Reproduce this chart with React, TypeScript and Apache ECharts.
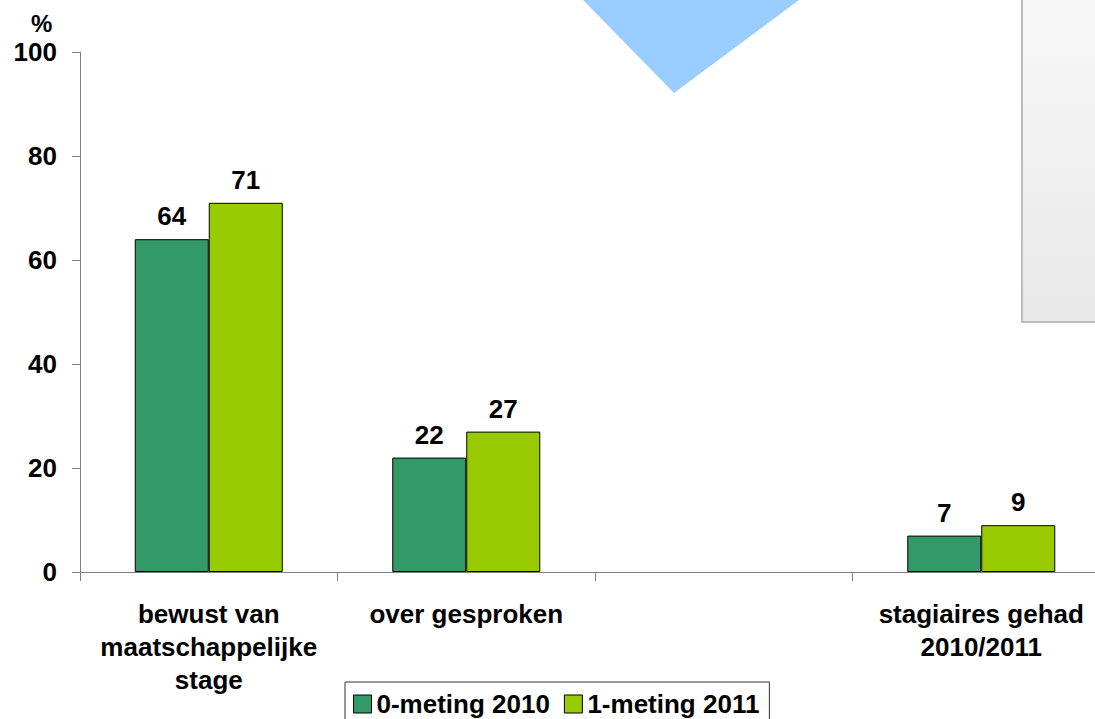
import React, { useEffect, useRef } from "react";
import * as echarts from "echarts";

const categories = ["bewust van\nmaatschappelijke\nstage", "over gesproken", "", "stagiaires gehad\n2010/2011"];
const series2010 = [64, 22, null, 7];
const series2011 = [71, 27, null, 9];
const seriesNames = ["0-meting 2010", "1-meting 2011"];
const yTicks = { min: 0, max: 100, interval: 20 };

const FONT = "'Liberation Sans', Arial, sans-serif";

export default function App() {
  const ref = useRef<HTMLDivElement>(null);
  useEffect(() => {
    if (!ref.current) return;
    const chart = echarts.init(ref.current, null, { renderer: "svg" });
    const labelStyle = {
      show: true,
      position: "top" as const,
      distance: 10,
      color: "#000",
      fontSize: 26,
      fontWeight: "bold" as const,
      fontFamily: FONT,
    };
    chart.setOption({
      animation: false,
      backgroundColor: "#fff",
      textStyle: { fontFamily: FONT },
      grid: { left: 80, right: 0, top: 52, bottom: 147, containLabel: false },
      graphic: [
        {
          type: "polygon",
          shape: { points: [[583, 0], [799, 0], [674, 93]] },
          style: { fill: "#99ccff" },
          silent: true,
        },
        {
          type: "rect",
          shape: { x: 1022, y: -4, width: 100, height: 326 },
          style: {
            fill: new echarts.graphic.LinearGradient(0, 0, 0, 1, [
              { offset: 0, color: "#f8f8f8" },
              { offset: 1, color: "#e8e8e8" },
            ]),
            stroke: "#bdbdbd",
            lineWidth: 2,
          },
          silent: true,
        },
        {
          type: "text",
          left: 31,
          top: 11,
          style: { text: "%", fontSize: 24, fontWeight: "bold", fontFamily: FONT, fill: "#000" },
        },
      ],
      legend: {
        left: 345,
        top: 682,
        padding: [9, 10, 9, 8],
        borderColor: "#333",
        borderWidth: 1,
        itemWidth: 18,
        itemHeight: 18,
        itemGap: 14,
        icon: "rect",
        itemStyle: { borderColor: "#000", borderWidth: 1 },
        textStyle: { fontSize: 26, fontWeight: "bold", color: "#000", fontFamily: FONT },
        data: seriesNames,
      },
      xAxis: {
        type: "category",
        data: categories,
        axisLine: { show: true, lineStyle: { color: "#808080", width: 1 } },
        axisTick: { show: true, length: 9, lineStyle: { color: "#808080" } },
        axisLabel: {
          interval: 0,
          margin: 25,
          color: "#000",
          fontSize: 26,
          fontWeight: "bold",
          fontFamily: FONT,
          lineHeight: 33,
          align: "center",
        },
        splitLine: { show: false },
      },
      yAxis: {
        type: "value",
        min: yTicks.min,
        max: yTicks.max,
        interval: yTicks.interval,
        axisLine: { show: true, lineStyle: { color: "#808080", width: 1 } },
        axisTick: { show: true, length: 8, lineStyle: { color: "#808080" } },
        axisLabel: {
          margin: 23,
          color: "#000",
          fontSize: 26,
          fontWeight: "bold",
          fontFamily: FONT,
        },
        splitLine: { show: false },
      },
      series: [
        {
          name: seriesNames[0],
          type: "bar",
          data: series2010,
          barWidth: 74,
          barGap: "0%",
          itemStyle: { color: "#339966", borderColor: "#000", borderWidth: 1 },
          label: labelStyle,
        },
        {
          name: seriesNames[1],
          type: "bar",
          data: series2011,
          barWidth: 74,
          barGap: "0%",
          itemStyle: { color: "#99cc00", borderColor: "#000", borderWidth: 1 },
          label: labelStyle,
        },
      ],
    });
    return () => chart.dispose();
  }, []);
  return (
    <div style={{ position: "absolute", left: 0, top: 0, width: 1095, height: 719, overflow: "hidden" }}>
      <div ref={ref} style={{ width: 1110, height: 719 }} />
    </div>
  );
}
